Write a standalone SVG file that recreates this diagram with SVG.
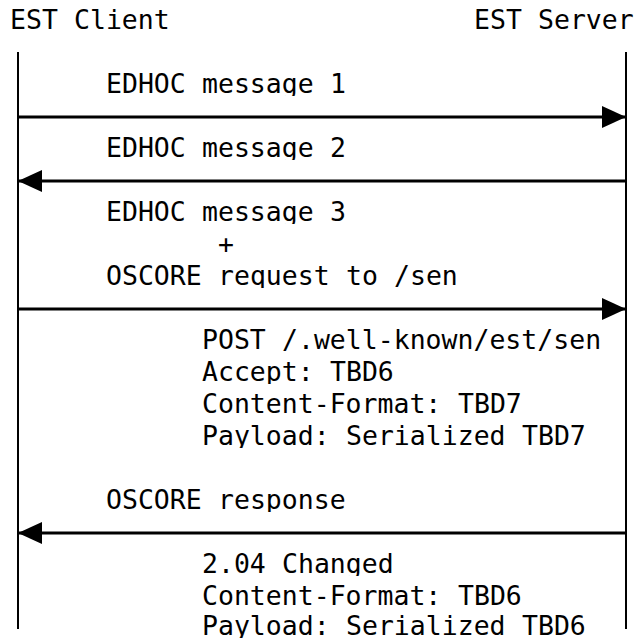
<svg xmlns="http://www.w3.org/2000/svg" width="636" height="641" viewBox="0 0 636 641">
<style>
  text { font-family: "DejaVu Sans Mono", "Liberation Mono", monospace; font-size: 26.5px; fill: #000; }
  .life { stroke: #000; stroke-width: 2; fill: none; }
  .msg { stroke: #000; stroke-width: 3; fill: none; marker-end: url(#ah); }
</style>
<defs>
  <marker id="ah" markerUnits="userSpaceOnUse" markerWidth="24" markerHeight="22" refX="24" refY="11" orient="auto" viewBox="0 0 24 22">
    <path d="M0,0 L24,11 L0,22 z" fill="#000"/>
  </marker>
  <clipPath id="rows">
    <rect x="0" y="4" width="636" height="28"/>
    <rect x="0" y="68" width="636" height="28"/>
    <rect x="0" y="132" width="636" height="28"/>
    <rect x="0" y="196" width="636" height="28"/>
    <rect x="0" y="228" width="636" height="28"/>
    <rect x="0" y="260" width="636" height="28"/>
    <rect x="0" y="324" width="636" height="28"/>
    <rect x="0" y="356" width="636" height="28"/>
    <rect x="0" y="388" width="636" height="28"/>
    <rect x="0" y="420" width="636" height="28"/>
    <rect x="0" y="484" width="636" height="28"/>
    <rect x="0" y="548" width="636" height="28"/>
    <rect x="0" y="580" width="636" height="28"/>
    <rect x="0" y="610" width="636" height="28"/>
  </clipPath>
</defs>
<rect x="0" y="0" width="636" height="641" fill="#fff"/>

<g id="client">
  <g clip-path="url(#rows)"><text x="10" y="28.8">EST</text><text x="74" y="28.8">Client</text></g>
  <line class="life" x1="18" y1="52" x2="18" y2="629"/>
</g>
<g id="server">
  <g clip-path="url(#rows)"><text x="474" y="28.8">EST</text><text x="538" y="28.8">Server</text></g>
  <line class="life" x1="626" y1="52" x2="626" y2="629"/>
</g>

<g id="connectors">
  <line class="msg" x1="18" y1="117" x2="626" y2="117"/>
  <line class="msg" x1="626" y1="181" x2="18" y2="181"/>
  <line class="msg" x1="18" y1="309" x2="626" y2="309"/>
  <line class="msg" x1="626" y1="533" x2="18" y2="533"/>
</g>

<g id="msg1" clip-path="url(#rows)">
  <text x="106" y="92.8">EDHOC</text><text x="202" y="92.8">message</text><text x="330" y="92.8">1</text>
</g>
<g id="msg2" clip-path="url(#rows)">
  <text x="106" y="156.8">EDHOC</text><text x="202" y="156.8">message</text><text x="330" y="156.8">2</text>
</g>
<g id="msg3" clip-path="url(#rows)">
  <text x="106" y="220.8">EDHOC</text><text x="202" y="220.8">message</text><text x="330" y="220.8">3</text>
  <text x="218" y="252.8">+</text>
  <text x="106" y="284.8">OSCORE</text><text x="218" y="284.8">request</text><text x="346" y="284.8">to</text><text x="394" y="284.8">/sen</text>
</g>
<g id="request" clip-path="url(#rows)">
  <text x="202" y="348.8">POST</text><text x="282" y="348.8">/.well-known/est/sen</text>
  <text x="202" y="380.8">Accept:</text><text x="330" y="380.8">TBD6</text>
  <text x="202" y="412.8">Content-Format:</text><text x="458" y="412.8">TBD7</text>
  <text x="202" y="444.8">Payload:</text><text x="346" y="444.8">Serialized</text><text x="522" y="444.8">TBD7</text>
</g>
<g id="resp" clip-path="url(#rows)">
  <text x="106" y="508.8">OSCORE</text><text x="218" y="508.8">response</text>
</g>
<g id="response" clip-path="url(#rows)">
  <text x="202" y="572.8">2.04</text><text x="282" y="572.8">Changed</text>
  <text x="202" y="604.8">Content-Format:</text><text x="458" y="604.8">TBD6</text>
  <text x="202" y="634.5">Payload:</text><text x="346" y="634.5">Serialized</text><text x="522" y="634.5">TBD6</text>
</g>
</svg>
